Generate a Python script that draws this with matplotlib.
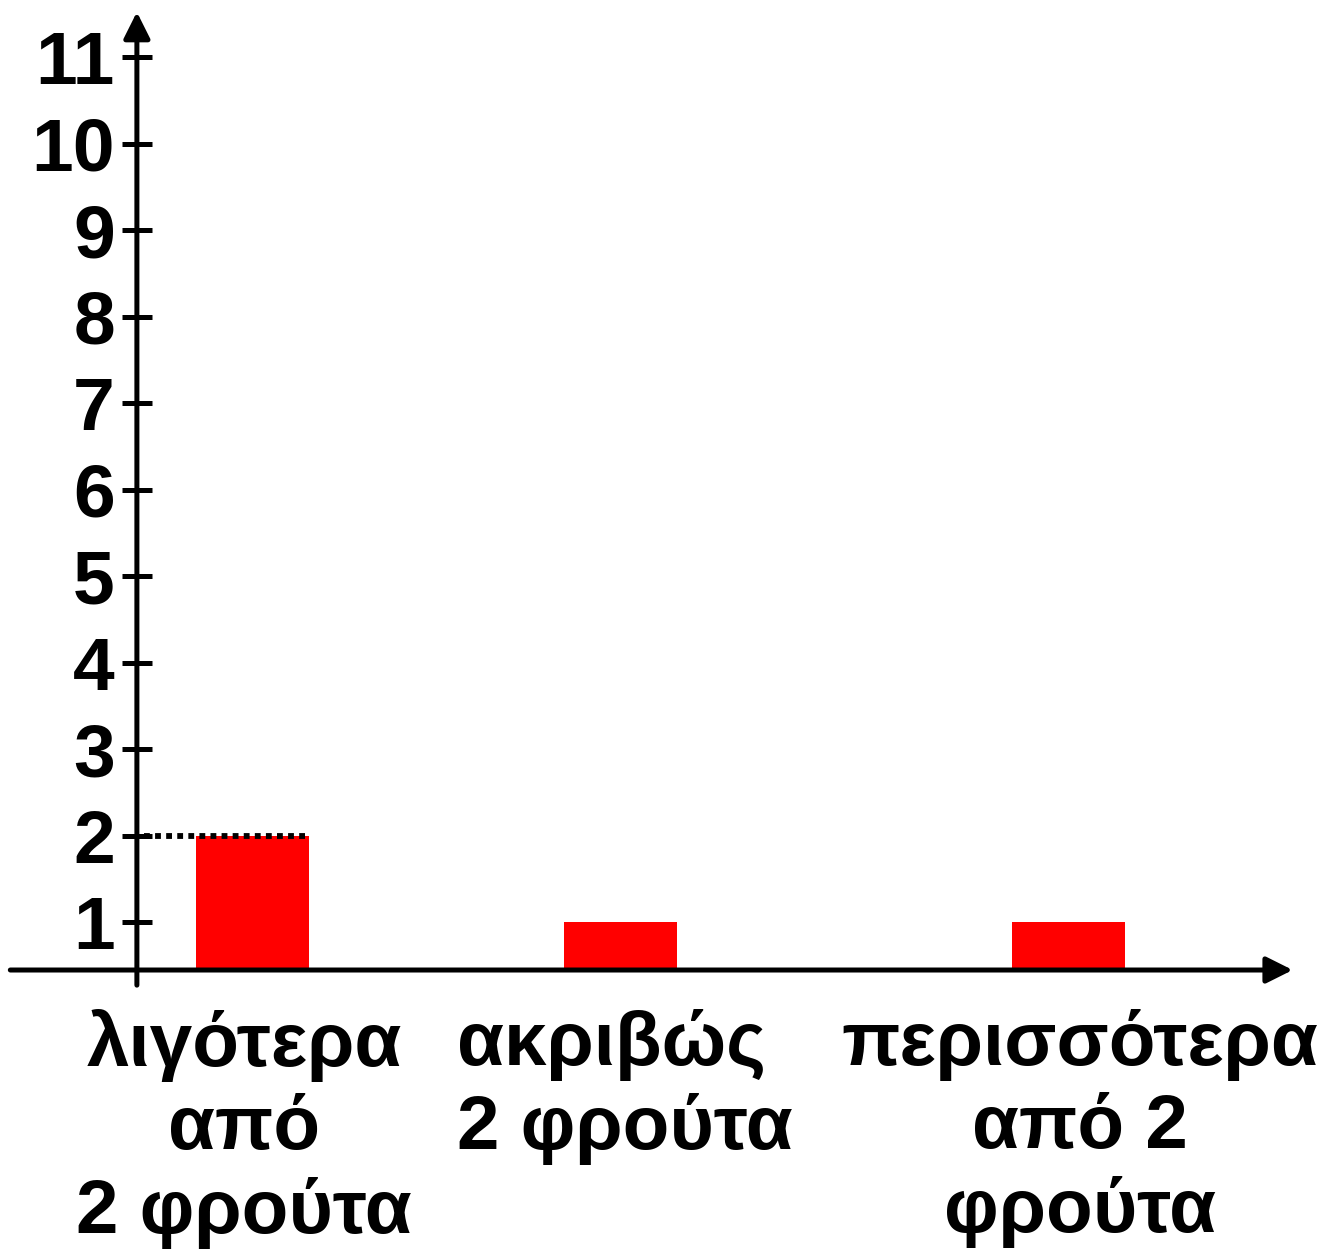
import matplotlib
matplotlib.use('Agg')
import matplotlib.pyplot as plt

plt.rcParams['font.family'] = ['Liberation Sans', 'DejaVu Sans']

categories = ['λιγότερα\nαπό\n2 φρούτα', 'ακριβώς\n2 φρούτα', 'περισσότερα\nαπό 2\nφρούτα']
values = [2, 1, 1]
yticks = [1, 2, 3, 4, 5, 6, 7, 8, 9, 10, 11]

# layout (category positions are uneven in the original)
xpos = [0, 1, 2.217]
bar_w = 0.307
label_x = [-0.023, 0.555, 2.249]
label_ha = ['center', 'left', 'center']
base = 0.445      # where the horizontal axis crosses
yaxis_x = -0.314

fig = plt.figure(figsize=(13.17, 12.52), dpi=100)
ax = fig.add_axes([0, 0, 1, 1])
ax.set_xlim(-0.686, 2.893)
ax.set_ylim(-2.815, 11.659)
ax.axis('off')

ax.bar(xpos, [v - base for v in values], width=bar_w, bottom=base,
       color='#ff0000', zorder=2)

# axes with arrows
arrow = dict(arrowstyle='-|>', lw=3.6, color='black', mutation_scale=40,
             shrinkA=0, shrinkB=0)
ax.annotate('', xy=(yaxis_x, 11.52), xytext=(yaxis_x, 0.27), arrowprops=arrow, zorder=3)
ax.annotate('', xy=(2.827, base), xytext=(-0.658, base), arrowprops=arrow, zorder=3)

# ticks and labels
ax.plot([yaxis_x] * len(yticks), yticks, linestyle='none', marker='_',
        markersize=22, markeredgewidth=3.6, color='black', zorder=3)
for t in yticks:
    ax.text(yaxis_x - 0.06, t, str(t), ha='right', va='center_baseline',
            fontsize=54, fontweight='bold')

# dotted guide to top of first bar
ax.plot([yaxis_x + 0.02, xpos[0] + bar_w / 2], [values[0], values[0]],
        color='black', lw=4.2, linestyle=(0, (1, 0.9)), zorder=3)

for lx, ha, lab in zip(label_x, label_ha, categories):
    ax.text(lx, 0.0, lab, ha=ha, va='top', multialignment=ha,
            fontsize=55, fontweight='bold', linespacing=1.22)

fig.savefig('out.png', dpi=100)
